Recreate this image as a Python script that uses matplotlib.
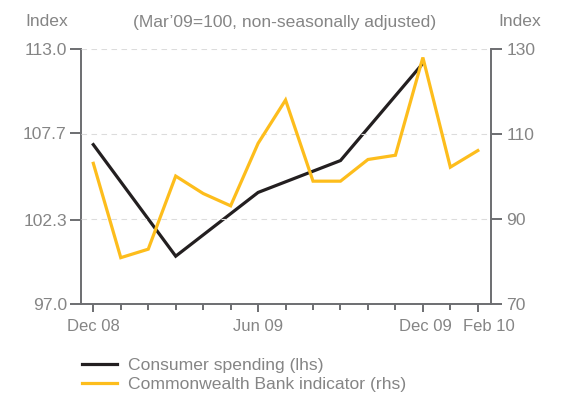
import numpy as np
import matplotlib.pyplot as plt
from matplotlib.transforms import ScaledTranslation

plt.rcParams['font.family'] = ['Liberation Sans', 'DejaVu Sans']

# Monthly axis, Dec 08 to Feb 10
months = ['Dec 08', 'Jan 09', 'Feb 09', 'Mar 09', 'Apr 09', 'May 09', 'Jun 09',
          'Jul 09', 'Aug 09', 'Sep 09', 'Oct 09', 'Nov 09', 'Dec 09', 'Jan 10', 'Feb 10']
labelled = ['Dec 08', 'Jun 09', 'Dec 09', 'Feb 10']

# Consumer spending (quarterly, lhs)
spend_months = ['Dec 08', 'Mar 09', 'Jun 09', 'Sep 09', 'Dec 09']
spend_values = [107.0, 100.0, 104.0, 106.0, 112.1]

# Commonwealth Bank indicator (monthly, rhs)
cba_values = [103.1, 80.9, 82.9, 100.1, 96.0, 93.1, 107.8, 118.0,
              98.9, 98.9, 104.0, 105.0, 128.0, 102.2, 106.1]

left_ticks = [97.0, 102.3, 107.7, 113.0]
right_ticks = [70, 90, 110, 130]

grey = '#6d6e71'
text_grey = '#858585'
black = '#231f20'
yellow = '#fdbd1c'
fs = 12.6

fig = plt.figure(figsize=(5.63, 4.05), dpi=100)
ax = fig.add_axes([0.1433, 0.2494, 0.8721 - 0.1433, 0.879 - 0.2494])
ax2 = ax.twinx()

x_all = np.arange(len(months))
x_spend = [months.index(m) for m in spend_months]

l1, = ax.plot(x_spend, spend_values, color=black, lw=2.3, solid_joinstyle='miter', zorder=3)
l2, = ax2.plot(x_all, cba_values, color=yellow, lw=2.3, solid_joinstyle='miter', zorder=3)

ax.set_xlim(-0.46, 14.48)
ax.set_ylim(left_ticks[0], left_ticks[-1])
ax2.set_ylim(right_ticks[0], right_ticks[-1])

# dashed guide lines at the right-hand ticks
for v in right_ticks[1:]:
    ax2.axhline(v, color='#dcdcdc', lw=0.8, ls=(0, (5, 4)), zorder=1)

ax.set_yticks(left_ticks)
ax.set_yticklabels([f'{v:.1f}' for v in left_ticks])
ax2.set_yticks(right_ticks)

ax.set_xticks(x_all, minor=True)
ax.set_xticks([months.index(m) for m in labelled])
ax.set_xticklabels(labelled)

for a in (ax, ax2):
    a.spines['top'].set_visible(False)
    for s in a.spines.values():
        s.set_color(grey)
        s.set_linewidth(1.4)
ax.spines['right'].set_visible(False)
ax2.spines['left'].set_visible(False)
ax2.spines['bottom'].set_visible(False)

ax.tick_params(axis='y', length=8, width=1.4, color=grey, labelcolor=text_grey,
               labelsize=fs, pad=2)
ax2.tick_params(axis='y', length=8, width=1.4, color=grey, labelcolor=text_grey,
                labelsize=fs, pad=3)
ax.tick_params(axis='x', which='major', length=5.5, width=1.4, color=grey,
               labelcolor=text_grey, labelsize=12, pad=5)
ax.tick_params(axis='x', which='minor', length=4.3, width=1.4, color=grey)

# nudge the last two month labels apart
shifts = {'Dec 09': 3, 'Feb 10': 11}
for lab in ax.get_xticklabels():
    dx = shifts.get(lab.get_text(), 0)
    if dx:
        lab.set_transform(lab.get_transform() + ScaledTranslation(dx / 100, 0, fig.dpi_scale_trans))

fig.text(47 / 563, 1 - 22 / 405, 'Index', ha='center', va='center', color=text_grey, fontsize=fs)
fig.text(520 / 563, 1 - 22 / 405, 'Index', ha='center', va='center', color=text_grey, fontsize=fs)
fig.text(285 / 563, 1 - 22 / 405, '(Mar\u201909=100, non-seasonally adjusted)',
         ha='center', va='center', color=text_grey, fontsize=fs)

fig.legend([l1, l2], ['Consumer spending (lhs)', 'Commonwealth Bank indicator (rhs)'],
           loc='upper left', bbox_to_anchor=(75 / 563, 1 - 351 / 405), frameon=False,
           fontsize=fs, handlelength=2.0, handletextpad=0.65, labelspacing=0.2,
           labelcolor=text_grey, borderaxespad=0)

fig.savefig('out.png', dpi=100)
